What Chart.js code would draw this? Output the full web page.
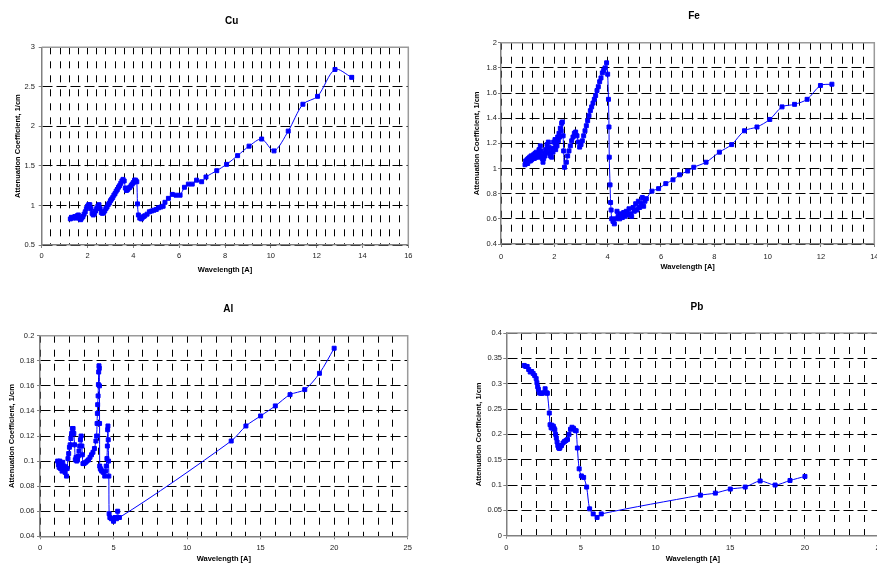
<!DOCTYPE html>
<html><head><meta charset="utf-8">
<script src="https://cdn.jsdelivr.net/npm/chart.js@4.4.0/dist/chart.umd.min.js"></script>
<style>
html,body{margin:0;padding:0;background:#fff;overflow:hidden;width:877px;height:566px;position:relative}
canvas{position:absolute}
</style></head><body>
<canvas id="cu" width="440" height="283" style="left:0px;top:0px"></canvas>
<canvas id="fe" width="465" height="283" style="left:437px;top:0px"></canvas>
<canvas id="al" width="440" height="283" style="left:0px;top:283px"></canvas>
<canvas id="pb" width="465" height="283" style="left:437px;top:283px"></canvas>
<script>
// ---- data ----
const cuWave = [1.25,1.3,1.35,1.4,1.45,1.5,1.55,1.6,1.65,1.7,1.75,1.8,1.85,1.9,1.95,2.0,2.05,2.1,2.15,2.2,2.25,2.3,2.35,2.4,2.45,2.5,2.55,2.6,2.65,2.7,2.75,2.8,2.85,2.9,2.95,3.0,3.05,3.1,3.15,3.2,3.25,3.3,3.35,3.4,3.45,3.5,3.55,3.6,3.65,3.7,3.75,3.8,3.85,3.9,3.95,4.0,4.05,4.1,4.15,4.18,4.22,4.28,4.35,4.4,4.45,4.5,4.6,4.7,4.8,4.9,5.0,5.1,5.2,5.3,5.38,5.53,5.7,5.86,6.04,6.23,6.4,6.57,6.76,6.98,7.17,7.64,8.07,8.55,9.05,9.6,10.14,10.76,11.4,12.04,12.8,13.53];
const cuAtt = [0.83,0.85,0.84,0.85,0.86,0.84,0.87,0.88,0.84,0.82,0.84,0.86,0.89,0.92,0.96,0.99,1.01,1.01,0.96,0.9,0.88,0.9,0.93,0.96,0.99,1.01,0.96,0.91,0.9,0.91,0.93,0.96,0.98,1.01,1.03,1.06,1.08,1.1,1.13,1.15,1.18,1.2,1.23,1.25,1.28,1.31,1.33,1.31,1.22,1.19,1.2,1.22,1.23,1.25,1.27,1.29,1.32,1.32,1.3,1.02,0.88,0.84,0.83,0.85,0.86,0.87,0.89,0.92,0.93,0.94,0.95,0.97,0.98,0.99,1.04,1.09,1.14,1.13,1.13,1.23,1.27,1.27,1.32,1.30,1.36,1.44,1.52,1.63,1.75,1.84,1.69,1.94,2.28,2.38,2.72,2.62];

const feWave = [0.9,0.925,0.95,0.975,1.0,1.025,1.05,1.075,1.1,1.125,1.15,1.175,1.2,1.225,1.25,1.275,1.3,1.325,1.35,1.375,1.4,1.425,1.45,1.475,1.5,1.525,1.55,1.575,1.6,1.625,1.65,1.675,1.7,1.725,1.75,1.775,1.8,1.825,1.85,1.875,1.9,1.925,1.95,1.975,2.0,2.025,2.05,2.075,2.1,2.125,2.15,2.175,2.2,2.225,2.25,2.275,2.3,2.33,2.35,2.38,2.45,2.5,2.55,2.6,2.65,2.7,2.75,2.8,2.85,2.9,2.95,3.0,3.05,3.1,3.15,3.2,3.25,3.3,3.35,3.4,3.45,3.5,3.55,3.6,3.65,3.7,3.75,3.8,3.85,3.9,3.96,4.0,4.03,4.05,4.06,4.09,4.11,4.13,4.15,4.2,4.25,4.3,4.35,4.4,4.45,4.5,4.55,4.6,4.65,4.7,4.75,4.8,4.85,4.9,4.95,5.0,5.05,5.1,5.15,5.2,5.25,5.3,5.35,5.4,5.45,5.66,5.91,6.18,6.45,6.7,7.0,7.23,7.69,8.19,8.65,9.13,9.6,10.08,10.54,11.01,11.48,11.98,12.41];
const feAtt = [1.03,1.06,1.04,1.07,1.04,1.08,1.06,1.09,1.06,1.1,1.07,1.1,1.08,1.11,1.08,1.12,1.09,1.13,1.1,1.12,1.09,1.15,1.12,1.18,1.14,1.1,1.08,1.05,1.08,1.12,1.1,1.15,1.13,1.19,1.16,1.21,1.17,1.12,1.1,1.13,1.09,1.16,1.13,1.21,1.16,1.23,1.15,1.21,1.18,1.25,1.22,1.28,1.25,1.32,1.3,1.36,1.37,1.26,1.14,1.01,1.05,1.1,1.14,1.18,1.22,1.25,1.28,1.29,1.26,1.21,1.17,1.19,1.22,1.26,1.3,1.34,1.38,1.42,1.46,1.49,1.52,1.55,1.58,1.62,1.65,1.69,1.72,1.76,1.78,1.8,1.84,1.75,1.55,1.33,1.09,0.87,0.73,0.67,0.6,0.58,0.56,0.6,0.66,0.62,0.6,0.64,0.61,0.65,0.62,0.66,0.63,0.68,0.64,0.62,0.69,0.66,0.72,0.67,0.74,0.69,0.72,0.77,0.7,0.74,0.76,0.82,0.84,0.88,0.91,0.95,0.98,1.01,1.05,1.13,1.19,1.30,1.33,1.39,1.49,1.51,1.55,1.66,1.67];

const alWave = [1.2,1.25,1.3,1.35,1.4,1.45,1.5,1.55,1.6,1.65,1.7,1.75,1.8,1.85,1.9,1.95,2.0,2.05,2.1,2.15,2.2,2.25,2.3,2.35,2.4,2.45,2.5,2.55,2.6,2.65,2.7,2.75,2.8,2.85,2.88,2.92,3.0,3.1,3.2,3.3,3.4,3.5,3.6,3.7,3.8,3.85,3.88,3.9,3.92,3.95,3.97,3.99,4.01,4.03,4.04,4.05,4.06,4.1,4.15,4.2,4.3,4.4,4.45,4.5,4.55,4.58,4.6,4.62,4.64,4.66,4.68,4.7,4.75,4.85,4.95,5.0,5.1,5.2,5.28,5.4,13,14,15,16,17,18,19,20];
const alAtt = [0.1,0.097,0.095,0.1,0.094,0.097,0.092,0.099,0.093,0.096,0.091,0.095,0.088,0.094,0.102,0.106,0.111,0.113,0.118,0.122,0.126,0.126,0.122,0.113,0.101,0.103,0.1,0.101,0.104,0.108,0.112,0.117,0.12,0.112,0.105,0.098,0.098,0.099,0.1,0.101,0.103,0.105,0.107,0.11,0.116,0.12,0.13,0.138,0.145,0.152,0.161,0.171,0.176,0.174,0.16,0.13,0.096,0.094,0.093,0.092,0.091,0.088,0.092,0.096,0.102,0.112,0.125,0.128,0.117,0.1,0.088,0.058,0.055,0.054,0.054,0.052,0.055,0.054,0.06,0.055,0.116,0.128,0.136,0.144,0.153,0.157,0.17,0.19];

const pbWave = [1.2,1.3,1.4,1.5,1.6,1.7,1.8,1.9,2.0,2.05,2.1,2.15,2.2,2.3,2.4,2.5,2.6,2.7,2.75,2.88,2.93,3.0,3.05,3.1,3.15,3.2,3.25,3.3,3.35,3.4,3.45,3.5,3.55,3.6,3.7,3.8,3.9,4.0,4.1,4.2,4.3,4.4,4.5,4.6,4.68,4.76,4.88,5.03,5.18,5.38,5.58,5.82,6.08,6.36,13,14,15,16,17,18,19,20];
const pbAtt = [0.336,0.334,0.334,0.328,0.323,0.324,0.32,0.316,0.31,0.302,0.294,0.289,0.282,0.281,0.281,0.282,0.29,0.282,0.281,0.242,0.219,0.213,0.218,0.212,0.216,0.212,0.209,0.2,0.193,0.185,0.178,0.174,0.172,0.174,0.178,0.183,0.186,0.188,0.19,0.2,0.21,0.214,0.212,0.208,0.207,0.173,0.132,0.118,0.115,0.096,0.053,0.043,0.036,0.043,0.08,0.084,0.092,0.096,0.108,0.1,0.109,0.117];

const xTitle = 'Wavelength [A]';
const yTitle = 'Attenuation Coefficient, 1/cm';

// ---- drawing ----
const FONT = 'Liberation Sans, Arial, sans-serif';
const fmt = v => String(parseFloat(Number(v).toFixed(4)));

function makeChart(id, o) {
  const isLabel = v => Math.abs(v / o.xLabelStep - Math.round(v / o.xLabelStep)) < 1e-6;
  const framePlugin = {
    id: 'frame_' + id,
    beforeDatasetsDraw(chart) {
      const {ctx, chartArea: a} = chart;
      ctx.save();
      ctx.strokeStyle = '#9a9a9a';
      ctx.lineWidth = 1.5;
      ctx.beginPath();
      ctx.moveTo(a.left, a.top); ctx.lineTo(a.right, a.top); ctx.lineTo(a.right, a.bottom);
      ctx.stroke();
      ctx.restore();
    }
  };
  const titlePlugin = {
    id: 'ttl_' + id,
    afterDraw(chart) {
      const ctx = chart.ctx;
      ctx.save();
      ctx.font = 'bold 10px ' + FONT;
      ctx.fillStyle = '#000';
      ctx.textAlign = 'center';
      ctx.textBaseline = 'middle';
      ctx.fillText(o.title, o.titleX, o.titleY);
      ctx.restore();
    }
  };
  return new Chart(document.getElementById(id), {
    type: 'line',
    data: {
      datasets: [{
        data: o.xs.map((x, i) => ({x: x, y: o.ys[i]})),
        borderColor: '#0000ff',
        backgroundColor: '#0000ff',
        borderWidth: 1,
        pointStyle: 'rect',
        pointRadius: 2.8,
        pointBorderWidth: 1,
        tension: 0.3
      }]
    },
    options: {
      responsive: false,
      animation: false,
      devicePixelRatio: 1,
      layout: {padding: {left: 0, top: o.padT, right: o.padR, bottom: 0}},
      plugins: {legend: {display: false}, tooltip: {enabled: false}, title: {display: false}},
      scales: {
        x: {
          type: 'linear', min: o.xMin, max: o.xMax,
          afterFit: s => { s.height = o.xH; },
          ticks: {stepSize: o.xGridStep, autoSkip: false, maxRotation: 0, padding: o.xTickPad,
                  color: '#222', font: {family: FONT, size: 7.5},
                  callback: v => isLabel(v) ? fmt(v) : ''},
          grid: {color: '#000', lineWidth: 1, tickLength: 3, tickWidth: 1,
                 tickColor: c => (c.tick && isLabel(c.tick.value)) ? '#808080' : 'rgba(0,0,0,0)'},
          border: {display: true, color: '#808080', width: 1.5, dash: [7, 7]},
          title: {display: true, text: xTitle, color: '#000', font: {family: FONT, size: 7.5, weight: 'bold'},
                  padding: {top: 0, bottom: o.xTitlePad}}
        },
        y: {
          type: 'linear', min: o.yMin, max: o.yMax,
          afterFit: s => { s.width = o.yW; },
          ticks: {stepSize: o.yStep, autoSkip: false, padding: o.yTickPad, color: '#222',
                  font: {family: FONT, size: 7.5}, callback: v => fmt(v)},
          grid: {color: '#000', lineWidth: 1, tickLength: 3, tickColor: '#808080'},
          border: {display: true, color: '#808080', width: 1.5, dash: [10, 4]},
          title: {display: true, text: yTitle, color: '#000', font: {family: FONT, size: 7.5, weight: 'bold'},
                  padding: {top: o.yTitlePad, bottom: 0}}
        }
      }
    },
    plugins: [framePlugin, titlePlugin]
  });
}

makeChart('cu', {xs: cuWave, ys: cuAtt, title: 'Cu', titleX: 231.7, titleY: 21.7,
  xMin: 0, xMax: 16, xGridStep: 0.4, xLabelStep: 2, yMin: 0.5, yMax: 3, yStep: 0.5,
  padT: 47.3, padR: 31.7, yW: 41.7, xH: 38, yTitlePad: 13.8, yTickPad: 3.7, xTickPad: 3.8, xTitlePad: 8.8});

makeChart('fe', {xs: feWave, ys: feAtt, title: 'Fe', titleX: 257, titleY: 16,
  xMin: 0, xMax: 14, xGridStep: 0.4, xLabelStep: 2, yMin: 0.4, yMax: 2, yStep: 0.2,
  padT: 42.7, padR: 27.7, yW: 64, xH: 39, yTitlePad: 35.8, yTickPad: 1, xTickPad: 5.5, xTitlePad: 11.1});

makeChart('al', {xs: alWave, ys: alAtt, title: 'Al', titleX: 228.3, titleY: 26.7,
  xMin: 0, xMax: 25, xGridStep: 1, xLabelStep: 5, yMin: 0.04, yMax: 0.2, yStep: 0.02,
  padT: 52.7, padR: 32.3, yW: 40, xH: 29.7, yTitlePad: 7.5, yTickPad: 2.7, xTickPad: 4.5, xTitlePad: 2.1});

makeChart('pb', {xs: pbWave, ys: pbAtt, title: 'Pb', titleX: 260, titleY: 24,
  xMin: 0, xMax: 25, xGridStep: 1, xLabelStep: 5, yMin: 0, yMax: 0.4, yStep: 0.05,
  padT: 50, padR: 22.4, yW: 69.3, xH: 30.3, yTitlePad: 37.5, yTickPad: 1.3, xTickPad: 5.1, xTitlePad: 2.1});
</script>
</body></html>
